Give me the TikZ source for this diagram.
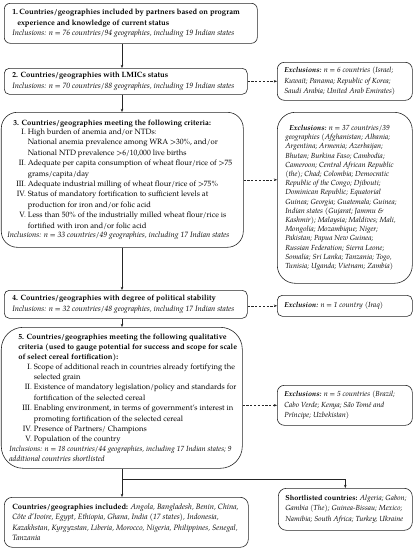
\documentclass[tikz,border=0pt]{standalone}
\usepackage{fontspec}
\setmainfont{texgyrepagella}[Extension=.otf, UprightFont=*-regular, BoldFont=*-bold, ItalicFont=*-italic, BoldItalicFont=*-bolditalic]
\usetikzlibrary{arrows.meta}
\newcommand\boxtext[3]{\parbox{#1}{\leftskip=#2\rightskip=0pt plus 1fil\parindent=0pt\relax #3}}
\tikzset{
  bx/.style={draw=black!85, line width=0.6pt, anchor=north west, inner xsep=0pt, inner ysep=0pt, font=\fontsize{7.65}{10.4}\selectfont},
  ex/.style={bx, font=\fontsize{7.35}{10.3}\selectfont\itshape},
  flow/.style={-{Stealth[length=3.2pt,width=2.6pt]}, line width=0.5pt, draw=black!85},
  dflow/.style={flow, dash pattern=on 2.2pt off 1.6pt},
}
\begin{document}
\begin{tikzpicture}[x=1pt,y=-1pt]
\useasboundingbox (0,0) rectangle (417,550);
\coordinate (col) at (122,0);
% main column
\node[bx, rounded corners=6pt, minimum width=253pt, minimum height=40pt] (b1) at (4,3)
 {\boxtext{253pt}{8pt}{%
  \textbf{1.\,Countries/geographies included by partners based on program}\\
  \hspace*{5pt}\textbf{experience and knowledge of current status}\\
  \textit{Inclusions: n = 76 countries/94 geographies, including 19 Indian states}}};
\node[bx, rounded corners=5pt, minimum width=243pt, minimum height=26pt] (b2) at (4,68)
 {\boxtext{243pt}{8pt}{%
  \textbf{2. Countries/geographies with LMICs status}\\
  \textit{Inclusions: n = 70 countries/88 geographies, including 19 Indian states}}};
\node[bx, rounded corners=16pt, minimum width=242pt, minimum height=135pt] (b3) at (1,112)
 {\boxtext{242pt}{6pt}{%
  \hspace*{6pt}\textbf{3. Countries/geographies meeting the following criteria:}\\[-1pt]
  \hspace*{9pt}\begin{tabular}{@{}r@{\ }l@{}}
  I. & High burden of anemia and/or NTDs:\\
     & National anemia prevalence among WRA >30\%, and/or\\
     & National NTD prevalence >6/10,000 live births\\
  II. & Adequate per capita consumption of wheat flour/rice of >75\\
     & grams/capita/day\\
  III. & Adequate industrial milling of wheat flour/rice of >75\%\\
  IV. & Status of mandatory fortification to sufficient levels at\\
     & production for iron and/or folic acid\\
  V. & Less than 50\% of the industrially milled wheat flour/rice is\\
     & fortified with iron and/or folic acid
  \end{tabular}\\
  \textit{Inclusions: n = 33 countries/49 geographies, including 17 Indian states}}};
\node[bx, rounded corners=5pt, minimum width=243pt, minimum height=28pt] (b4) at (4,290)
 {\boxtext{243pt}{8pt}{%
  \textbf{4. Countries/geographies with degree of political stability}\\
  \textit{Inclusions: n = 32 countries/48 geographies, including 17 Indian states}}};
\node[bx, rounded corners=22pt, minimum width=241pt, minimum height=141pt] (b5) at (1,327)
 {\boxtext{241pt}{8pt}{%
  \hspace*{9pt}\textbf{5. Countries/geographies meeting the following qualitative}\\
  \hspace*{9pt}\textbf{criteria (used to gauge potential for success and scope for scale}\\
  \hspace*{9pt}\textbf{of select cereal fortification):}\\[-1pt]
  \hspace*{13pt}\begin{tabular}{@{}r@{\ }l@{}}
  I. & Scope of additional reach in countries already fortifying the\\
     & selected grain\\
  II. & Existence of mandatory legislation/policy and standards for\\
     & fortification of the selected cereal\\
  III. & Enabling environment, in terms of government's interest in\\
     & promoting fortification of the selected cereal\\
  IV. & Presence of Partners/ Champions\\
  V. & Population of the country
  \end{tabular}\\
  {\fontsize{7.4}{10.4}\selectfont\textit{Inclusions: n = 18 countries/44 geographies, including 17 Indian states; 9}}\\
  \textit{additional countries shortlisted}}};
\node[bx, rounded corners=8pt, minimum width=244pt, minimum height=50pt] (b6) at (4,497)
 {\boxtext{244pt}{8pt}{%
  \textbf{Countries/geographies included:} \textit{Angola, Bangladesh, Benin, China,}\\
  \textit{C\^ote d'Ivoire, Egypt, Ethiopia, Ghana, India (17 states), Indonesia,}\\
  \textit{Kazakhstan, Kyrgyzstan, Liberia, Morocco, Nigeria, Philippines, Senegal,}\\
  \textit{Tanzania}}};
% exclusions column
\node[ex, rounded corners=7pt, minimum width=135pt, minimum height=38pt] (e1) at (277,62)
 {\boxtext{135pt}{7pt}{%
  \textbf{Exclusions:} n = 6 countries (Israel;\\
  Kuwait; Panama; Republic of Korea;\\
  Saudi Arabia; United Arab Emirates)}};
\node[ex, rounded corners=18pt, minimum width=135pt, minimum height=171pt, font=\fontsize{7.35}{9.2}\selectfont\itshape] (e2) at (277,112)
 {\boxtext{135pt}{8pt}{%
  \hspace*{4pt}\textbf{Exclusions:} n = 37 countries/39\\
  geographies (Afghanistan; Albania;\\
  Argentina; Armenia; Azerbaijan;\\
  Bhutan; Burkina Faso; Cambodia;\\
  Cameroon; Central African Republic\\
  (the); Chad; Colombia; Democratic\\
  Republic of the Congo; Djibouti;\\
  Dominican Republic; Equatorial\\
  Guinea; Georgia; Guatemala; Guinea;\\
  Indian states (Gujarat; Jammu \&\\
  Kashmir); Malaysia; Maldives; Mali,\\
  Mongolia; Mozambique; Niger;\\
  Pakistan; Papua New Guinea;\\
  Russian Federation; Sierra Leone;\\
  Somalia; Sri Lanka; Tanzania; Togo,\\
  Tunisia; Uganda; Vietnam; Zambia)}};
\node[ex, rounded corners=5pt, minimum width=135pt, minimum height=21pt] (e3) at (277,295)
 {\boxtext{135pt}{7pt}{%
  \textbf{Exclusion:} n = 1 country (Iraq)}};
\node[ex, rounded corners=7pt, minimum width=135pt, minimum height=40pt] (e4) at (277,385)
 {\boxtext{135pt}{7pt}{%
  \textbf{Exclusions:} n = 5 countries (Brazil;\\
  Cabo Verde; Kenya; S\~ao Tom\'e and\\
  Pr\'incipe; Uzbekistan)}};
\node[ex, font=\fontsize{7.35}{10.3}\selectfont, rounded corners=8pt, minimum width=134pt, minimum height=42pt] (s) at (278,488)
 {\boxtext{134pt}{7pt}{%
  \textbf{Shortlisted countries:} \textit{Algeria; Gabon;}\\
  \textit{Gambia (The); Guinea-Bissau; Mexico;}\\
  \textit{Namibia; South Africa; Turkey; Ukraine}}};
% vertical flow
\draw[flow] (b1.south -| col) -- (b2.north -| col);
\draw[flow] (b2.south -| col) -- (b3.north -| col);
\draw[flow] (b3.south -| col) -- (b4.north -| col);
\draw[flow] (b4.south -| col) -- (b5.north -| col);
\draw[flow] (b5.south -| col) -- (b6.north -| col);
\coordinate (br) at (122,479);
\draw[flow] (br) -| (s.north);
% exclusions
\draw[dflow] (b2.east) -- (b2.east -| e1.west);
\draw[dflow] (b3.east) -- (b3.east -| e2.west);
\draw[dflow] (e3.west -| b4.east) -- (e3.west);
\draw[dflow] (e4.west -| b5.east) -- (e4.west);
\end{tikzpicture}
\end{document}
